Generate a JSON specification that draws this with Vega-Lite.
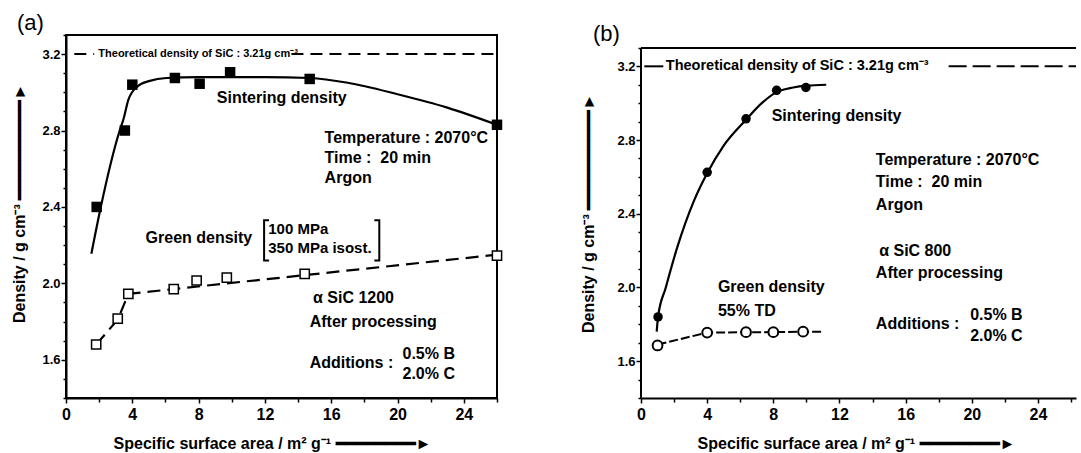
{
  "$schema": "https://vega.github.io/schema/vega-lite/v6.json",
  "background": "white",
  "padding": {"left": 10, "top": 11, "right": 0, "bottom": 0},
  "bounds": "flush",
  "spacing": 144,
  "config": {
    "font": "Liberation Sans",
    "view": {"stroke": "black", "strokeWidth": 2},
    "axis": {
      "grid": false,
      "domainColor": "black",
      "domainWidth": 2,
      "tickColor": "black",
      "tickWidth": 1.5,
      "labelColor": "black",
      "labelFont": "Liberation Sans",
      "labelFontWeight": "bold",
      "titleColor": "black",
      "titleFont": "Liberation Sans",
      "titleFontWeight": "bold",
      "titleFontSize": 16,
      "labelFlush": false,
      "labelOverlap": false
    },
    "title": {"fontSize": 22, "fontWeight": "normal", "anchor": "start", "frame": "group", "color": "black", "font": "Liberation Sans"},
    "text": {"font": "Liberation Sans", "fontWeight": "bold", "fontSize": 16, "align": "left", "baseline": "middle", "color": "black"}
  },
  "hconcat": [
    {
      "width": 431,
      "height": 363,
      "title": {"text": "(a)", "dx": -49, "dy": 7, "offset": 1, "frame": "group"},
      "encoding": {
        "x": {
          "field": "x", "type": "quantitative",
          "scale": {"domain": [0, 26], "nice": false, "zero": false},
          "axis": {
            "title": "Specific surface area / m² g⁻¹ ━━━━━━━━►",
            "values": [0, 2, 4, 6, 8, 10, 12, 14, 16, 18, 20, 22, 24, 26],
            "labelExpr": "datum.value % 4 == 0 ? datum.label : ''",
            "tickSize": {"condition": {"test": "datum.value % 4 == 0", "value": 5}, "value": 4},
            "labelPadding": 3,
            "labelFontSize": 16,
            "titleX": 206,
            "titleY": 50,
            "titleBaseline": "alphabetic"
          }
        },
        "y": {
          "field": "y", "type": "quantitative",
          "scale": {"domain": [1.4, 3.3], "nice": false, "zero": false},
          "axis": {
            "title": "Density / g cm⁻³  ━━━━━━━━━━►",
            "values": [1.4, 1.5, 1.6, 1.7, 1.8, 1.9, 2.0, 2.1, 2.2, 2.3, 2.4, 2.5, 2.6, 2.7, 2.8, 2.9, 3.0, 3.1, 3.2, 3.3],
            "labelExpr": "round(datum.value*10) % 4 == 0 ? format(datum.value, '.1f') : ''",
            "tickSize": {"condition": {"test": "round(datum.value*10) % 4 == 0", "value": 5}, "value": 3},
            "labelPadding": 1,
            "labelFontSize": 13,
            "titleX": -47,
            "titleY": 168,
            "titleBaseline": "middle"
          }
        }
      },
      "layer": [
        {
          "data": {"values": [
            {"x": 0.5, "x2": 1.7, "y": 3.2, "y2": 3.2},
            {"x": 13.6, "x2": 26, "y": 3.2, "y2": 3.2}
          ]},
          "mark": {"type": "rule", "strokeDash": [12, 7], "strokeWidth": 2, "color": "black"},
          "encoding": {"x2": {"field": "x2"}, "y2": {"field": "y2"}}
        },
        {
          "data": {"values": [{"x": 1.95, "y": 3.2, "label": "Theoretical density of SiC : 3.21g cm⁻³"}]},
          "mark": {"type": "text", "fontSize": 11},
          "encoding": {"text": {"field": "label"}}
        },
        {
          "data": {"values": [
            {"x": 1.53, "y": 2.155}, {"x": 2.1, "y": 2.40}, {"x": 3.24, "y": 2.80}, {"x": 3.47, "y": 2.86},
            {"x": 3.76, "y": 2.96}, {"x": 4.3, "y": 3.03}, {"x": 5.06, "y": 3.06}, {"x": 6.06, "y": 3.075},
            {"x": 8, "y": 3.08}, {"x": 12, "y": 3.08}, {"x": 14.7, "y": 3.075}, {"x": 17, "y": 3.05},
            {"x": 20, "y": 2.99}, {"x": 23, "y": 2.92}, {"x": 26, "y": 2.83}
          ]},
          "mark": {"type": "line", "interpolate": "monotone", "color": "black", "strokeWidth": 2.2},
          "encoding": {}
        },
        {
          "data": {"values": [
            {"x": 1.85, "y": 2.40}, {"x": 3.55, "y": 2.80}, {"x": 4.0, "y": 3.04}, {"x": 6.57, "y": 3.075},
            {"x": 8.06, "y": 3.045}, {"x": 9.9, "y": 3.105}, {"x": 14.7, "y": 3.07}, {"x": 26, "y": 2.83}
          ]},
          "mark": {"type": "square", "filled": true, "color": "black", "size": 110, "opacity": 1},
          "encoding": {}
        },
        {
          "data": {"values": [
            {"x": 1.82, "y": 1.68}, {"x": 3.12, "y": 1.81}, {"x": 3.76, "y": 1.945}, {"x": 26, "y": 2.15}
          ]},
          "mark": {"type": "line", "color": "black", "strokeWidth": 2.2, "strokeDash": [13, 7]},
          "encoding": {}
        },
        {
          "data": {"values": [
            {"x": 1.82, "y": 1.68}, {"x": 3.12, "y": 1.815}, {"x": 3.76, "y": 1.945}, {"x": 6.5, "y": 1.97},
            {"x": 7.88, "y": 2.015}, {"x": 9.7, "y": 2.03}, {"x": 14.4, "y": 2.05}, {"x": 26, "y": 2.145}
          ]},
          "mark": {"type": "square", "filled": true, "fill": "white", "stroke": "black", "strokeWidth": 1.5, "size": 85, "opacity": 1},
          "encoding": {}
        },
        {
          "data": {"values": [
            {"x": 12.25, "y": 2.33, "part": "L", "i": 1}, {"x": 11.95, "y": 2.33, "part": "L", "i": 2},
            {"x": 11.95, "y": 2.12, "part": "L", "i": 3}, {"x": 12.25, "y": 2.12, "part": "L", "i": 4},
            {"x": 18.6, "y": 2.33, "part": "R", "i": 1}, {"x": 18.9, "y": 2.33, "part": "R", "i": 2},
            {"x": 18.9, "y": 2.12, "part": "R", "i": 3}, {"x": 18.6, "y": 2.12, "part": "R", "i": 4}
          ]},
          "mark": {"type": "line", "color": "black", "strokeWidth": 2},
          "encoding": {"detail": {"field": "part"}, "order": {"field": "i", "type": "quantitative"}}
        },
        {
          "data": {"values": [
            {"x": 12.2, "y": 2.285, "label": "100 MPa"},
            {"x": 12.2, "y": 2.185, "label": "350 MPa isost."}
          ]},
          "mark": {"type": "text", "fontSize": 15},
          "encoding": {"text": {"field": "label"}}
        },
        {
          "data": {"values": [
            {"x": 9.1, "y": 2.97, "label": "Sintering density"},
            {"x": 15.6, "y": 2.76, "label": "Temperature : 2070°C"},
            {"x": 15.6, "y": 2.655, "label": "Time :\u00a0 20 min"},
            {"x": 15.6, "y": 2.55, "label": "Argon"},
            {"x": 4.8, "y": 2.235, "label": "Green density"},
            {"x": 14.9, "y": 1.925, "label": "α SiC 1200"},
            {"x": 14.7, "y": 1.80, "label": "After processing"},
            {"x": 14.7, "y": 1.585, "label": "Additions :"},
            {"x": 20.3, "y": 1.63, "label": "0.5% B"},
            {"x": 20.3, "y": 1.525, "label": "2.0% C"}
          ]},
          "mark": {"type": "text"},
          "encoding": {"text": {"field": "label"}}
        }
      ]
    },
    {
      "width": 435,
      "height": 363,
      "view": {"stroke": null},
      "title": {"text": "(b)", "dx": -48, "dy": 12, "offset": 1, "frame": "group"},
      "encoding": {
        "x": {
          "field": "x", "type": "quantitative",
          "scale": {"domain": [0, 26.3], "nice": false, "zero": false},
          "axis": {
            "title": "Specific surface area / m² g⁻¹ ━━━━━━━━►",
            "values": [0, 2, 4, 6, 8, 10, 12, 14, 16, 18, 20, 22, 24, 26],
            "labelExpr": "datum.value % 4 == 0 ? datum.label : ''",
            "tickSize": {"condition": {"test": "datum.value % 4 == 0", "value": 5}, "value": 4},
            "labelPadding": 3,
            "labelFontSize": 16,
            "titleX": 215,
            "titleY": 50,
            "titleBaseline": "alphabetic"
          }
        },
        "y": {
          "field": "y", "type": "quantitative",
          "scale": {"domain": [1.4, 3.37], "nice": false, "zero": false},
          "axis": {
            "title": "Density / g cm⁻³  ━━━━━━━━━━►",
            "domain": false,
            "values": [1.4, 1.5, 1.6, 1.7, 1.8, 1.9, 2.0, 2.1, 2.2, 2.3, 2.4, 2.5, 2.6, 2.7, 2.8, 2.9, 3.0, 3.1, 3.2, 3.3],
            "labelExpr": "round(datum.value*10) % 4 == 0 ? format(datum.value, '.1f') : ''",
            "tickSize": {"condition": {"test": "round(datum.value*10) % 4 == 0", "value": 5}, "value": 3},
            "labelPadding": 1,
            "labelFontSize": 13,
            "titleX": -53,
            "titleY": 178,
            "titleBaseline": "middle"
          }
        }
      },
      "layer": [
        {
          "data": {"values": [
            {"x": 0, "x2": 26.3, "y": 3.3, "y2": 3.3},
            {"x": 0, "x2": 0, "y": 1.4, "y2": 3.3},
            {"x": 0.2, "x2": 1.35, "y": 3.2, "y2": 3.2}
          ]},
          "mark": {"type": "rule", "strokeWidth": 2, "color": "black"},
          "encoding": {"x2": {"field": "x2"}, "y2": {"field": "y2"}}
        },
        {
          "data": {"values": [
            {"x": 18.6, "x2": 26.3, "y": 3.2, "y2": 3.2}
          ]},
          "mark": {"type": "rule", "strokeDash": [18, 6], "strokeWidth": 2, "color": "black"},
          "encoding": {"x2": {"field": "x2"}, "y2": {"field": "y2"}}
        },
        {
          "data": {"values": [{"x": 1.5, "y": 3.2, "label": "Theoretical density of SiC : 3.21g cm⁻³"}]},
          "mark": {"type": "text", "fontSize": 14.5},
          "encoding": {"text": {"field": "label"}}
        },
        {
          "data": {"values": [
            {"x": 0.95, "y": 1.76}, {"x": 1.03, "y": 1.84}, {"x": 1.5, "y": 2.0}, {"x": 2.2, "y": 2.22},
            {"x": 3.2, "y": 2.47}, {"x": 4.0, "y": 2.62}, {"x": 5.0, "y": 2.77}, {"x": 6.35, "y": 2.91},
            {"x": 7.3, "y": 3.0}, {"x": 8.2, "y": 3.06}, {"x": 9.2, "y": 3.085}, {"x": 10, "y": 3.095},
            {"x": 11.2, "y": 3.1}
          ]},
          "mark": {"type": "line", "interpolate": "monotone", "color": "black", "strokeWidth": 2.2},
          "encoding": {}
        },
        {
          "data": {"values": [
            {"x": 1.03, "y": 1.84}, {"x": 4.0, "y": 2.625}, {"x": 6.35, "y": 2.915}, {"x": 8.2, "y": 3.07}, {"x": 9.97, "y": 3.085}
          ]},
          "mark": {"type": "circle", "color": "black", "size": 90, "opacity": 1},
          "encoding": {}
        },
        {
          "data": {"values": [
            {"x": 1.0, "y": 1.69}, {"x": 4.0, "y": 1.755}, {"x": 10.9, "y": 1.76}
          ]},
          "mark": {"type": "line", "color": "black", "strokeWidth": 2, "strokeDash": [9, 3]},
          "encoding": {}
        },
        {
          "data": {"values": [
            {"x": 1.0, "y": 1.685}, {"x": 4.0, "y": 1.755}, {"x": 6.35, "y": 1.757}, {"x": 8.0, "y": 1.757}, {"x": 9.8, "y": 1.76}
          ]},
          "mark": {"type": "point", "shape": "circle", "filled": true, "fill": "white", "stroke": "black", "strokeWidth": 2, "size": 95, "opacity": 1},
          "encoding": {}
        },
        {
          "data": {"values": [
            {"x": 7.9, "y": 2.93, "label": "Sintering density"},
            {"x": 14.2, "y": 2.69, "label": "Temperature : 2070°C"},
            {"x": 14.2, "y": 2.57, "label": "Time :\u00a0 20 min"},
            {"x": 14.2, "y": 2.45, "label": "Argon"},
            {"x": 14.4, "y": 2.2, "label": "α SiC 800"},
            {"x": 14.2, "y": 2.08, "label": "After processing"},
            {"x": 14.2, "y": 1.8, "label": "Additions :"},
            {"x": 19.9, "y": 1.85, "label": "0.5% B"},
            {"x": 19.9, "y": 1.735, "label": "2.0% C"},
            {"x": 4.65, "y": 2.0, "label": "Green density"},
            {"x": 4.65, "y": 1.87, "label": "55% TD"}
          ]},
          "mark": {"type": "text"},
          "encoding": {"text": {"field": "label"}}
        }
      ]
    }
  ]
}
